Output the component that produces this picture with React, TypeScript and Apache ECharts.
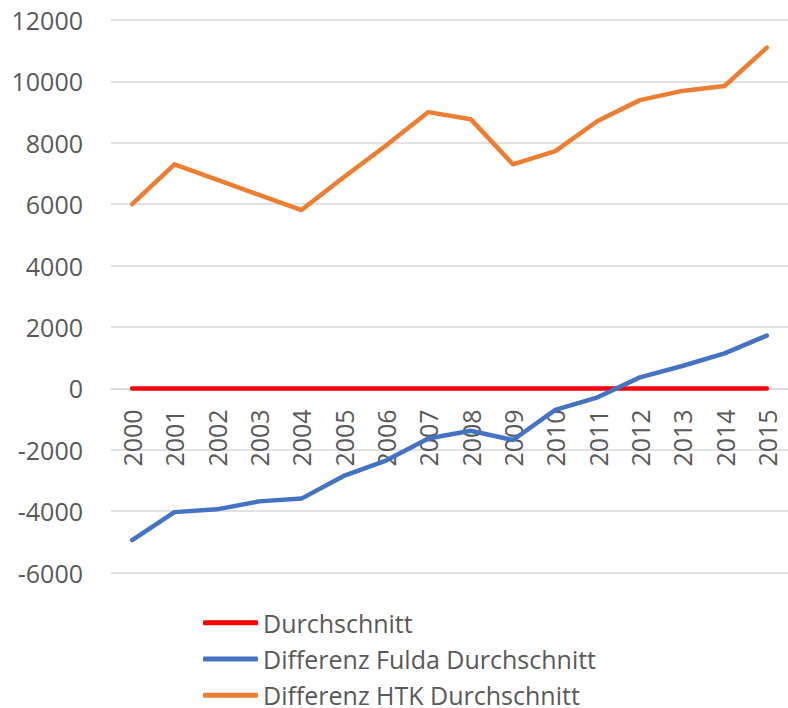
import React, { useEffect, useRef } from "react";
import * as echarts from "echarts";

const years = ["2000","2001","2002","2003","2004","2005","2006","2007","2008","2009","2010","2011","2012","2013","2014","2015"];
const durchschnitt = [0,0,0,0,0,0,0,0,0,0,0,0,0,0,0,0];
const fulda = [-4940,-4030,-3940,-3680,-3590,-2850,-2350,-1630,-1380,-1680,-700,-290,360,730,1140,1720];
const htk = [6000,7300,6800,6300,5810,6880,7910,9000,8770,7300,7730,8710,9390,9690,9850,11100];

const FONT = "'Open Sans', sans-serif";
const TEXT = "#595959";
const Y_MIN = -6000;
const Y_MAX = 12000;

export default function App() {
  const ref = useRef<HTMLDivElement>(null);
  useEffect(() => {
    if (!ref.current) return;
    const chart = echarts.init(ref.current, null, { renderer: "svg" });
    const gridTop = 20;
    const gridBottomPx = 572.6;
    const zeroPx = gridTop + (gridBottomPx - gridTop) * (Y_MAX / (Y_MAX - Y_MIN));
    chart.setOption({
      animation: false,
      backgroundColor: "#ffffff",
      textStyle: { fontFamily: FONT },
      grid: { left: 111, right: -6, top: gridTop, bottom: 708 - gridBottomPx, containLabel: false },
      legend: {
        orient: "vertical",
        left: 203,
        top: 610.2,
        height: 110,
        padding: 0,
        itemWidth: 55,
        itemHeight: 5,
        itemGap: 11.3,
        icon: "roundRect",
        textStyle: { fontSize: 25, color: TEXT, fontFamily: FONT, lineHeight: 25 },
        data: ["Durchschnitt", "Differenz Fulda Durchschnitt", "Differenz HTK Durchschnitt"],
      },
      xAxis: {
        type: "category",
        data: years,
        boundaryGap: true,
        offset: -(gridBottomPx - zeroPx),
        axisLine: { onZero: false, lineStyle: { color: "#d9d9d9", width: 1.5 } },
        axisTick: { show: false },
        axisLabel: { rotate: 90, margin: 21, fontSize: 25, color: TEXT, fontFamily: FONT },
        splitLine: { show: false },
      },
      yAxis: {
        type: "value",
        min: Y_MIN,
        max: Y_MAX,
        interval: 2000,
        axisLine: { show: false },
        axisTick: { show: false },
        axisLabel: { margin: 28, fontSize: 25, color: TEXT, fontFamily: FONT, formatter: (v: number) => String(v) },
        splitLine: { lineStyle: { color: "#d9d9d9", width: 1.5 } },
      },
      series: [
        {
          name: "Durchschnitt",
          type: "line",
          data: durchschnitt,
          symbol: "none",
          itemStyle: { color: "#ff0000" },
          lineStyle: { color: "#ff0000", width: 4.5, cap: "round" },
        },
        {
          name: "Differenz Fulda Durchschnitt",
          type: "line",
          data: fulda,
          symbol: "none",
          itemStyle: { color: "#4472c4" },
          lineStyle: { color: "#4472c4", width: 4.5, cap: "round", join: "round" },
        },
        {
          name: "Differenz HTK Durchschnitt",
          type: "line",
          data: htk,
          symbol: "none",
          itemStyle: { color: "#ed7d31" },
          lineStyle: { color: "#ed7d31", width: 4.5, cap: "round", join: "round" },
        },
      ],
    });
    return () => chart.dispose();
  }, []);
  return <div ref={ref} style={{ width: 788, height: 708, position: "absolute", left: 0, top: 0 }} />;
}
